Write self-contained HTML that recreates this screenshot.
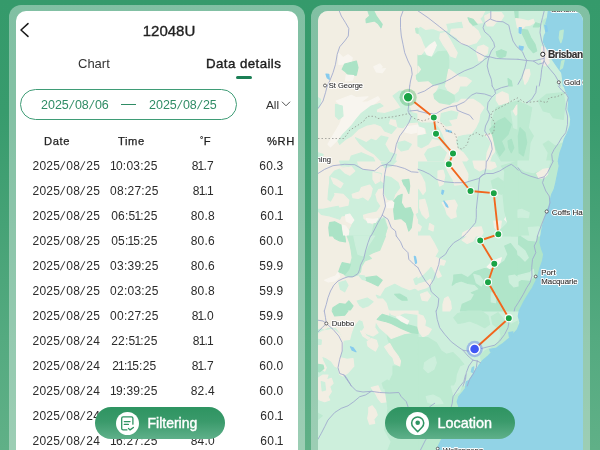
<!DOCTYPE html>
<html><head><meta charset="utf-8"><title>12048U</title>
<style>
html,body{margin:0;padding:0;}
body{width:600px;height:450px;overflow:hidden;position:relative;font-family:"Liberation Sans",sans-serif;
background:linear-gradient(180deg,#359a6b 0%,#389b6d 25%,#46a276 50%,#54aa80 75%,#60b087 100%);}
.frame{position:absolute;top:5px;height:460px;background:rgba(255,255,255,0.38);border-radius:12px;}
#f1{left:9px;width:296px;}
#f2{left:311px;width:279px;}
.card{position:absolute;top:11px;height:460px;border-radius:10px;overflow:hidden;}
#left{left:16px;width:282px;background:#fff;}
#right{left:318px;width:265px;background:#cdefdc;}
#right svg{position:absolute;left:-318px;top:-11px;}
.abs{position:absolute;white-space:nowrap;}
.abs,.row,.btn,.card{will-change:transform;}
#title{left:16.75px;width:304px;text-align:center;top:22px;font-size:15px;line-height:18px;color:#222;-webkit-text-stroke:0.35px #222;}
#tab1{left:78px;top:56px;font-size:13px;line-height:16px;color:#333;}
#tab2{left:205.5px;top:56px;font-size:13.3px;line-height:16px;color:#1d1d1d;-webkit-text-stroke:0.4px #1d1d1d;letter-spacing:0.42px;}
#ind{left:236px;top:76px;width:16px;height:2.6px;border-radius:2px;background:#1b7f55;}
#pill{left:19.5px;top:88.6px;width:215.2px;height:29.3px;border:1px solid #3f9c76;border-radius:16px;}
.dt{top:96.6px;font-size:12.5px;line-height:16px;color:#2f8c65;}
i{font-style:normal;}
i.s{margin:0 1.3px;display:inline-block;transform:skewX(-13deg);}
i.o{margin:0 -1.1px;}
#dash{left:121px;top:103.5px;width:15px;height:1.2px;background:#2f8c65;}
#all{left:266px;top:96.5px;font-size:11.8px;line-height:16px;color:#333;}
.hd{top:133px;font-size:11.2px;letter-spacing:0.6px;line-height:16px;color:#222;-webkit-text-stroke:0.25px #222;}
.row{position:absolute;left:0;top:0;height:16px;width:300px;font-size:12px;letter-spacing:0.23px;line-height:16px;color:#2b2b2b;}
.row span{position:absolute;top:0;white-space:nowrap;text-align:center;}
.row .d{left:16.3px;width:100px;}
.row .t{left:84.4px;width:100px;}
.row .f{left:152.8px;width:100px;}
.row .h{left:221.4px;width:100px;}
.btn{position:absolute;top:407px;width:130px;height:32px;border-radius:16px;background:linear-gradient(180deg,#2e9461 0%,#3a9a6b 45%,#5fb08a 100%);}
.btn .ic{position:absolute;left:21px;top:4.5px;width:23.4px;height:23.4px;border-radius:50%;background:#fff;}
.btn .tx{position:absolute;top:7px;font-size:14px;line-height:18px;color:#fff;-webkit-text-stroke:0.4px #fff;white-space:nowrap;}
</style></head><body>
<div class="frame" id="f1"></div>
<div class="frame" id="f2"></div>
<div class="card" id="left"></div>
<div class="card" id="right">
<svg width="600" height="461" viewBox="0 0 600 461">
<g stroke-linejoin="round" stroke-width="1.2">
<rect x="318" y="11" width="100" height="75" fill="#f2eee3"/>
<rect x="418" y="11" width="100" height="75" fill="#cdefdc"/>
<rect x="518" y="11" width="65" height="75" fill="#cdefdc"/>
<rect x="318" y="86" width="100" height="75" fill="#f2eee3"/>
<rect x="418" y="86" width="100" height="75" fill="#cdefdc"/>
<rect x="518" y="86" width="65" height="75" fill="#cdefdc"/>
<rect x="318" y="161" width="100" height="75" fill="#f2eee3"/>
<rect x="418" y="161" width="100" height="75" fill="#cdefdc"/>
<rect x="518" y="161" width="65" height="75" fill="#bdead1"/>
<rect x="318" y="236" width="100" height="75" fill="#f2eee3"/>
<rect x="418" y="236" width="100" height="75" fill="#cdefdc"/>
<rect x="518" y="236" width="65" height="75" fill="#b0e5c9"/>
<rect x="318" y="311" width="100" height="75" fill="#cdefdc"/>
<rect x="418" y="311" width="100" height="75" fill="#cdefdc"/>
<rect x="318" y="386" width="100" height="75" fill="#cdefdc"/>
<rect x="418" y="386" width="165" height="75" fill="#bdead1"/>
<polygon points="368.0,11.0 373.8,11.0 376.3,16.0 382.2,24.3 381.0,27.7 378.0,23.5 374.7,21.0 366.3,22.7 366.0,19.3 369.7,16.0" fill="#abe3c6" stroke="#abe3c6"/>
<polygon points="338.8,53.5 343.0,57.7 348.0,54.7 352.2,57.7 351.3,61.8 344.7,64.0 338.8,64.3" fill="#f8f5ef" stroke="#f8f5ef"/>
<polygon points="344.7,64.0 356.3,61.0 358.0,67.7 356.3,75.2 349.7,76.0 345.5,71.8 342.2,69.3" fill="#abe3c6" stroke="#abe3c6"/>
<polygon points="346.3,75.2 353.8,75.7 352.2,80.2 345.5,81.0" fill="#f8f5ef" stroke="#f8f5ef"/>
<polygon points="373.8,66.8 379.7,64.0 382.2,66.8 379.7,69.3 385.5,68.5 382.2,72.7 376.3,71.8" fill="#f8f5ef" stroke="#f8f5ef"/>
<polygon points="326.0,74.0 328.8,74.3 329.3,79.3 327.2,77.7" fill="#86cbee" stroke="#86cbee"/>
<polygon points="415.5,28.5 418.0,27.7 418.0,33.5 416.3,32.7" fill="#bdead1" stroke="#bdead1"/>
<polygon points="416.3,75.2 418.0,74.3 418.0,80.2 416.7,79.3" fill="#bdead1" stroke="#bdead1"/>
<polygon points="418.0,54.7 428.0,55.7 432.2,57.3 438.0,51.8 447.7,51.0 448.8,61.0 448.3,76.0 444.7,83.5 434.7,84.3 421.3,82.7 418.0,81.0" fill="#bdead1" stroke="#bdead1"/>
<polygon points="418.0,11.0 484.7,11.0 482.2,16.0 479.7,18.5 482.2,22.7 473.0,23.5 471.3,26.8 463.8,27.7 462.2,21.0 445.5,23.5 447.2,30.2 439.7,31.0 433.0,28.5 425.5,29.3 420.5,26.0 418.0,27.7" fill="#f2eee3" stroke="#f2eee3"/>
<polygon points="451.3,29.3 463.0,28.5 473.0,26.8 478.0,31.0 480.5,36.8 476.3,42.7 468.0,45.2 460.5,43.5 457.2,37.7 450.5,33.5" fill="#f2eee3" stroke="#f2eee3"/>
<polygon points="440.5,33.5 445.5,32.7 449.7,39.3 453.8,46.8 457.2,52.7 455.5,57.7 450.5,56.0 447.2,50.2 443.0,44.3 439.7,38.5" fill="#f2eee3" stroke="#f2eee3"/>
<polygon points="418.0,34.3 420.5,37.7 423.0,44.3 425.5,49.3 421.3,54.3 418.0,54.7" fill="#f2eee3" stroke="#f2eee3"/>
<polygon points="478.0,46.8 483.8,45.2 488.0,47.7 487.2,53.5 483.8,56.0 482.2,60.2 478.8,61.0 478.0,56.8 476.3,51.8" fill="#f2eee3" stroke="#f2eee3"/>
<polygon points="484.7,16.0 491.3,12.7 501.3,12.7 503.8,16.0 500.5,21.0 496.3,21.8 493.0,26.0 487.2,26.0 485.5,21.8" fill="#f2eee3" stroke="#f2eee3"/>
<polygon points="448.8,69.3 453.8,72.7 458.8,76.8 466.3,77.7 471.3,81.0 466.3,86.0 445.5,86.0 447.2,77.7" fill="#f2eee3" stroke="#f2eee3"/>
<polygon points="418.0,66.0 420.5,69.3 418.0,72.7" fill="#f2eee3" stroke="#f2eee3"/>
<polygon points="418.0,82.7 428.0,81.8 433.0,86.0 418.0,86.0" fill="#f2eee3" stroke="#f2eee3"/>
<polygon points="424.7,50.2 429.7,45.2 434.7,41.8 436.3,45.2 433.8,51.0 431.3,56.0 427.2,54.7" fill="#f8f5ef" stroke="#f8f5ef"/>
<polygon points="468.0,17.7 473.0,19.3 477.2,24.3 473.0,25.2 469.7,21.8" fill="#abe3c6" stroke="#abe3c6"/>
<polygon points="496.3,51.8 501.3,49.7 506.3,51.8 505.5,56.0 500.5,58.0 497.2,56.0" fill="#abe3c6" stroke="#abe3c6"/>
<polygon points="514.7,11.0 518.0,11.0 518.0,18.5 515.5,17.7" fill="#abe3c6" stroke="#abe3c6"/>
<polygon points="508.0,78.5 511.3,81.0 512.2,86.0 508.8,86.0" fill="#abe3c6" stroke="#abe3c6"/>
<polygon points="542.5,21.0 547.5,17.7 550.0,24.3 550.8,32.7 547.5,34.3 544.2,27.7" fill="#bdead1" stroke="#bdead1"/>
<polygon points="515.8,18.5 521.7,19.3 528.3,21.0 533.3,19.3 534.2,22.7 530.0,25.2 525.0,26.0 521.7,29.3 517.5,27.7" fill="#f2eee3" stroke="#f2eee3"/>
<polygon points="525.0,70.2 529.2,69.3 530.0,74.3 527.5,81.0 525.0,84.3 523.3,77.7" fill="#f2eee3" stroke="#f2eee3"/>
<polygon points="541.7,46.8 545.8,47.7 548.3,56.0 549.2,62.7 545.8,66.0 542.5,64.3 540.8,57.7" fill="#f0ebe4" stroke="#f0ebe4"/>
<polygon points="521.7,29.3 527.5,30.2 530.8,37.7 535.0,44.3 536.7,51.0 533.3,52.7 528.3,46.8 525.0,39.3 522.5,34.3" fill="#abe3c6" stroke="#abe3c6"/>
<polygon points="535.8,22.7 540.8,24.3 539.2,26.8 533.3,26.8" fill="#abe3c6" stroke="#abe3c6"/>
<polygon points="548.3,11.0 547.5,17.7 545.8,23.5 547.5,29.3 544.2,36.0 543.3,41.8 545.8,46.8 548.3,51.0 550.0,56.0 553.3,61.0 556.7,66.0 559.2,69.3 561.7,72.7 562.5,77.7 563.3,86.0 583.3,86.0 583.3,11.0" fill="#92d3e6" stroke="#92d3e6"/>
<polygon points="560.0,31.0 563.3,30.2 562.5,37.7 560.8,42.7 559.2,37.7" fill="#bdead1" stroke="#bdead1"/>
<polygon points="561.7,61.0 564.2,60.2 562.5,67.7 560.3,69.3" fill="#bdead1" stroke="#bdead1"/>
<polygon points="519.2,27.7 521.3,27.7 520.8,33.5 519.2,32.7" fill="#86cbee" stroke="#86cbee"/>
<polygon points="519.2,46.0 523.3,46.8 522.5,50.2 520.0,49.0" fill="#86cbee" stroke="#86cbee"/>
<polygon points="544.7,25.2 546.3,26.0 547.5,31.0 545.8,31.8" fill="#86cbee" stroke="#86cbee"/>
<polygon points="336.3,101.0 351.3,95.2 356.3,97.7 368.0,96.8 359.7,102.7 368.0,101.8 378.0,96.8 379.7,99.3 371.3,106.0 361.3,113.5 356.3,119.3 351.3,126.0 343.0,134.3 336.3,141.0 330.5,146.8 328.0,144.3 333.8,134.3 339.7,124.3 343.0,116.0 343.0,107.7" fill="#f8f5ef" stroke="#f8f5ef"/>
<polygon points="335.5,104.3 342.2,106.0 343.0,116.0 338.8,119.3 335.5,116.0" fill="#cdefdc" stroke="#cdefdc"/>
<polygon points="361.3,113.5 371.3,106.0 379.7,103.5 383.0,106.0 376.3,109.3 376.3,112.7 384.7,113.5 393.0,111.0 401.3,107.7 398.0,102.7 393.0,96.0 399.7,91.0 404.7,91.0 401.3,99.3 408.0,102.7 411.3,112.7 418.0,114.3 418.0,121.8 408.0,122.7 403.0,127.7 398.0,126.8 396.3,119.3 389.7,118.5 388.0,124.3 396.3,127.7 391.3,133.5 384.7,131.0 381.3,126.0 374.7,123.5 366.3,125.2 358.0,129.3 351.3,136.0 345.5,139.3 339.7,144.3 338.0,141.0 343.0,134.3 351.3,126.0 356.3,119.3" fill="#cdefdc" stroke="#cdefdc"/>
<polygon points="355.5,137.7 361.3,140.2 366.3,142.7 371.3,139.3 376.3,141.0 381.3,136.0 388.0,137.7 384.7,144.3 389.7,152.7 396.3,154.3 394.7,161.0 381.3,161.0 374.7,154.3 366.3,149.3 359.7,143.5" fill="#cdefdc" stroke="#cdefdc"/>
<polygon points="398.0,142.7 404.7,141.0 411.3,144.3 408.0,149.3 401.3,151.0 398.0,147.7" fill="#cdefdc" stroke="#cdefdc"/>
<polygon points="318.0,152.7 323.0,154.3 321.3,161.0 318.0,161.0" fill="#cdefdc" stroke="#cdefdc"/>
<polygon points="351.3,156.0 361.3,152.7 373.0,157.7 374.7,161.0 349.7,161.0" fill="#cdefdc" stroke="#cdefdc"/>
<polygon points="318.0,97.7 320.5,99.3 319.7,106.0 318.0,107.7" fill="#cdefdc" stroke="#cdefdc"/>
<polygon points="406.3,126.8 418.0,125.2 418.0,131.8 411.3,133.5 404.7,131.8" fill="#f8f5ef" stroke="#f8f5ef"/>
<polygon points="418.0,86.0 438.0,86.0 434.7,92.7 433.8,97.7 439.7,102.7 449.7,104.3 458.0,102.7 461.3,99.3 473.0,99.3 479.7,103.5 483.8,107.7 479.7,114.3 478.8,121.0 475.5,127.7 471.3,133.5 463.0,134.3 457.2,136.0 455.5,142.7 458.0,149.3 451.3,150.2 446.3,142.7 443.0,134.3 439.7,127.7 434.7,121.8 428.0,121.8 421.3,121.8 418.0,120.2" fill="#f2eee3" stroke="#f2eee3"/>
<polygon points="441.3,113.5 451.3,111.0 458.0,112.7 456.3,118.5 448.0,120.2 451.3,125.2 446.3,126.0 440.5,121.0" fill="#cdefdc" stroke="#cdefdc"/>
<polygon points="445.5,86.0 459.7,86.0 458.0,91.0 453.8,94.3 448.8,91.8" fill="#f2eee3" stroke="#f2eee3"/>
<polygon points="496.3,95.2 502.2,91.8 508.0,94.3 508.8,101.8 504.7,106.0 498.8,104.3 496.3,100.2" fill="#f2eee3" stroke="#f2eee3"/>
<polygon points="418.0,127.7 424.7,129.3 426.3,136.0 431.3,139.3 439.7,141.0 444.7,147.7 449.7,152.7 448.0,161.0 418.0,161.0" fill="#f2eee3" stroke="#f2eee3"/>
<polygon points="418.0,136.0 426.3,134.3 431.3,139.3 428.0,144.3 421.3,147.7 418.0,146.0" fill="#cdefdc" stroke="#cdefdc"/>
<polygon points="428.0,149.3 439.7,146.0 446.3,152.7 443.0,161.0 428.0,161.0 424.7,154.3" fill="#cdefdc" stroke="#cdefdc"/>
<polygon points="458.0,149.3 463.0,152.7 468.0,159.3 466.3,161.0 451.3,161.0 453.0,156.0" fill="#f2eee3" stroke="#f2eee3"/>
<polygon points="484.7,134.3 493.0,134.3 498.0,141.0 496.3,149.3 491.3,156.0 489.7,161.0 486.3,161.0 487.2,152.7 491.3,142.7 488.0,137.7" fill="#f2eee3" stroke="#f2eee3"/>
<polygon points="513.0,109.3 518.0,106.0 518.0,116.0 514.7,115.2" fill="#f2eee3" stroke="#f2eee3"/>
<polygon points="433.8,94.3 439.7,89.3 448.0,91.8 453.8,95.2 454.7,100.2 449.7,104.3 439.7,102.7 434.7,98.5" fill="#bdead1" stroke="#bdead1"/>
<polygon points="496.3,107.7 504.7,104.3 518.0,101.0 518.0,161.0 501.3,161.0 496.3,152.7 493.0,136.0 491.3,122.7" fill="#bdead1" stroke="#bdead1"/>
<polygon points="498.0,121.0 504.7,117.7 511.3,124.3 508.0,134.3 501.3,141.0 504.7,149.3 499.7,156.0 496.3,149.3 493.0,136.0 489.7,129.3" fill="#abe3c6" stroke="#abe3c6"/>
<polygon points="508.0,141.0 511.3,139.3 513.8,147.7 511.3,152.7 508.8,147.7" fill="#abe3c6" stroke="#abe3c6"/>
<polygon points="511.3,111.0 518.0,109.3 518.0,129.3 513.8,127.7" fill="#cdefdc" stroke="#cdefdc"/>
<polygon points="418.0,126.8 423.8,128.5 424.7,133.5 418.0,134.3" fill="#f8f5ef" stroke="#f8f5ef"/>
<polygon points="446.3,130.2 451.3,131.3 451.0,132.3 446.0,131.0" fill="#86cbee" stroke="#86cbee"/>
<polygon points="513.3,111.0 516.7,105.2 522.5,102.7 524.2,105.2 520.0,111.0 515.8,115.2" fill="#f2eee3" stroke="#f2eee3"/>
<polygon points="518.0,101.0 525.0,104.3 531.7,107.7 530.0,117.7 528.3,127.7 533.3,136.0 530.0,142.7 528.3,161.0 518.0,161.0" fill="#bdead1" stroke="#bdead1"/>
<polygon points="520.0,127.7 525.0,132.7 526.7,142.7 523.3,156.0 519.2,152.7 518.3,136.0" fill="#abe3c6" stroke="#abe3c6"/>
<polygon points="538.3,101.0 546.7,94.3 563.3,92.7 565.0,104.3 563.3,119.3 553.3,117.7 550.0,112.7 543.3,111.0" fill="#bdead1" stroke="#bdead1"/>
<polygon points="543.3,144.3 548.3,141.0 555.0,146.0 563.3,142.7 561.7,152.7 556.7,161.0 546.7,161.0 548.3,152.7" fill="#bdead1" stroke="#bdead1"/>
<polygon points="564.2,86.0 565.8,91.0 568.3,96.0 568.7,102.7 568.0,109.3 569.7,114.3 570.8,119.3 570.0,126.0 567.5,132.7 564.2,139.3 562.5,146.0 560.0,152.7 558.3,161.0 583.3,161.0 583.3,86.0" fill="#92d3e6" stroke="#92d3e6"/>
<polygon points="329.7,176.8 334.7,171.0 341.3,168.5 351.3,166.0 356.3,164.3 363.0,170.2 373.0,171.8 381.3,173.5 379.7,181.0 383.8,184.3 383.0,187.7 378.0,188.5 374.7,194.3 376.3,201.0 379.7,206.0 376.3,211.0 368.0,212.7 362.2,214.3 363.0,219.3 368.0,222.7 373.0,225.2 377.2,218.5 384.7,217.7 387.2,227.7 384.7,236.0 346.3,236.0 351.3,226.8 353.8,221.0 349.7,216.0 346.3,215.2 341.3,216.0 339.7,219.3 329.7,216.0 321.3,214.3 318.0,211.0 318.0,209.3 323.0,209.3 331.3,207.7 339.7,206.0 348.0,204.3 348.0,199.3 343.0,194.3 334.7,193.5 330.5,201.0 328.0,199.3 328.8,189.3 329.7,182.7" fill="#cdefdc" stroke="#cdefdc"/>
<polygon points="331.3,177.7 336.3,179.3 343.0,183.5 340.5,187.7 333.8,183.5" fill="#f2eee3" stroke="#f2eee3"/>
<polygon points="340.5,168.5 351.3,166.8 354.7,171.0 349.7,175.2 344.7,172.7" fill="#f2eee3" stroke="#f2eee3"/>
<polygon points="352.2,194.3 359.7,191.8 361.3,187.7 369.7,185.2 372.2,188.5 370.5,196.0 368.0,200.2 363.0,196.8 358.0,198.5 353.0,197.7" fill="#f2eee3" stroke="#f2eee3"/>
<polygon points="373.0,172.7 380.5,174.3 379.7,181.0 375.5,183.5 373.0,179.3" fill="#f2eee3" stroke="#f2eee3"/>
<polygon points="334.7,193.5 343.0,194.3 348.8,200.2 348.0,205.2 339.7,206.8 338.0,201.0" fill="#f2eee3" stroke="#f2eee3"/>
<polygon points="339.7,161.0 356.3,161.0 357.2,164.3 348.0,166.0 341.3,166.0" fill="#cdefdc" stroke="#cdefdc"/>
<polygon points="381.3,162.7 391.3,161.0 396.3,161.0 391.3,166.0 384.7,167.7" fill="#cdefdc" stroke="#cdefdc"/>
<polygon points="384.7,176.0 391.3,177.7 398.0,182.7 399.7,187.7 394.7,194.3 393.0,200.2 388.0,199.3 384.7,194.3" fill="#cdefdc" stroke="#cdefdc"/>
<polygon points="402.2,180.2 408.8,179.3 409.7,186.0 408.8,193.5 406.3,187.7 403.8,184.3" fill="#abe3c6" stroke="#abe3c6"/>
<polygon points="393.8,201.0 398.0,196.0 402.2,194.3 401.3,202.7 404.7,208.5 410.5,207.7 413.0,214.3 411.3,227.7 408.8,231.0 406.3,222.7 401.3,218.5 394.7,219.3 393.8,211.0" fill="#abe3c6" stroke="#abe3c6"/>
<polygon points="329.7,222.7 334.7,221.8 341.3,225.2 343.0,236.0 329.7,236.0 328.8,227.7" fill="#abe3c6" stroke="#abe3c6"/>
<polygon points="374.7,222.7 383.8,218.5 387.2,227.7 384.7,236.0 371.3,236.0" fill="#bdead1" stroke="#bdead1"/>
<polygon points="345.5,215.2 349.7,214.0 353.8,220.2 351.3,223.5 346.3,221.0" fill="#f8f5ef" stroke="#f8f5ef"/>
<polygon points="366.3,218.5 373.0,219.3 378.0,218.5 375.5,222.3 368.0,222.7" fill="#f8f5ef" stroke="#f8f5ef"/>
<polygon points="386.3,203.5 391.3,201.0 393.8,202.7 393.0,207.7 387.2,207.7" fill="#f8f5ef" stroke="#f8f5ef"/>
<polygon points="342.2,225.2 345.5,226.0 348.8,231.0 348.0,236.0 343.8,236.0" fill="#f8f5ef" stroke="#f8f5ef"/>
<polygon points="416.3,214.3 418.0,213.5 418.0,218.5" fill="#cdefdc" stroke="#cdefdc"/>
<polygon points="446.3,167.7 453.0,166.8 459.7,172.7 468.0,176.0 467.2,181.0 461.3,184.3 454.7,185.2 453.0,179.3 449.7,174.3" fill="#f2eee3" stroke="#f2eee3"/>
<polygon points="451.3,161.0 461.3,161.0 464.7,167.7 468.0,174.3 466.3,179.3 461.3,177.7 458.0,172.7 453.0,167.7" fill="#f2eee3" stroke="#f2eee3"/>
<polygon points="473.0,161.0 484.7,161.0 494.7,162.7 496.3,166.8 491.3,169.3 484.7,168.5 479.7,171.0 474.7,167.7" fill="#f2eee3" stroke="#f2eee3"/>
<polygon points="418.0,171.0 421.3,176.0 424.7,182.7 425.5,191.0 423.0,194.3 419.7,189.3 418.0,187.7" fill="#f2eee3" stroke="#f2eee3"/>
<polygon points="438.0,171.0 443.0,170.2 444.7,176.0 443.0,184.3 439.7,186.0 438.0,179.3" fill="#f2eee3" stroke="#f2eee3"/>
<polygon points="419.7,200.2 424.7,199.3 427.2,207.7 428.8,216.0 426.3,218.5 422.2,214.3 419.7,207.7" fill="#f2eee3" stroke="#f2eee3"/>
<polygon points="418.0,224.3 421.3,226.8 419.7,231.0 418.0,231.0" fill="#f2eee3" stroke="#f2eee3"/>
<polygon points="429.7,223.5 433.8,226.0 433.0,231.0 428.8,229.3" fill="#f2eee3" stroke="#f2eee3"/>
<polygon points="442.2,202.7 446.3,201.0 454.7,200.2 457.2,205.2 455.5,211.0 456.3,216.8 451.3,218.5 447.2,214.3 445.5,208.5" fill="#f2eee3" stroke="#f2eee3"/>
<polygon points="463.0,232.7 473.0,227.7 481.3,226.8 483.0,232.7 481.3,236.0 462.2,236.0" fill="#f2eee3" stroke="#f2eee3"/>
<polygon points="493.8,221.0 501.3,221.0 500.5,227.7 498.0,231.0 494.7,227.7" fill="#f2eee3" stroke="#f2eee3"/>
<polygon points="504.7,219.3 508.8,212.7 513.8,210.2 514.7,214.3 510.5,218.5 508.0,222.7" fill="#f8f5ef" stroke="#f8f5ef"/>
<polygon points="491.3,181.0 498.0,177.7 504.7,182.7 506.3,191.0 501.3,194.3 496.3,192.7 493.0,187.7" fill="#bdead1" stroke="#bdead1"/>
<polygon points="499.7,231.0 506.3,224.3 511.3,219.3 518.0,217.7 518.0,236.0 496.3,236.0" fill="#bdead1" stroke="#bdead1"/>
<polygon points="501.3,166.0 518.0,161.0 518.0,177.7 511.3,176.0 504.7,171.0" fill="#bdead1" stroke="#bdead1"/>
<polygon points="505.0,170.0 518.0,170.0 518.0,236.0 511.3,236.0 508.0,224.3 504.7,211.0 503.0,194.3" fill="#bdead1" stroke="#bdead1"/>
<polygon points="442.2,190.2 443.8,190.7 442.7,194.3 441.7,193.5" fill="#86cbee" stroke="#86cbee"/>
<polygon points="443.8,201.0 447.2,205.2 448.0,207.3 446.3,206.3" fill="#86cbee" stroke="#86cbee"/>
<polygon points="518.0,161.0 550.0,161.0 548.3,167.7 541.7,169.3 533.3,172.7 525.0,171.0 518.0,166.8" fill="#cdefdc" stroke="#cdefdc"/>
<polygon points="536.7,173.5 543.3,169.3 548.3,168.5 547.5,174.3 544.2,177.7 539.2,178.5" fill="#f2eee3" stroke="#f2eee3"/>
<polygon points="518.0,210.2 521.7,209.3 529.2,212.7 528.3,217.7 520.0,216.8 518.0,217.3" fill="#cdefdc" stroke="#cdefdc"/>
<polygon points="528.3,227.7 539.2,226.8 540.0,236.0 530.0,236.0" fill="#cdefdc" stroke="#cdefdc"/>
<polygon points="558.3,161.0 559.2,166.0 557.5,174.3 555.8,182.7 554.2,189.3 551.7,194.3 550.0,201.0 549.2,206.0 546.7,211.0 545.0,217.7 542.5,226.0 540.8,236.0 583.3,236.0 583.3,161.0" fill="#92d3e6" stroke="#92d3e6"/>
<polygon points="347.2,236.0 385.5,236.0 382.2,244.3 379.7,250.2 373.0,252.7 368.0,255.2 371.3,258.5 364.7,261.0 361.3,266.8 360.5,271.8 357.2,275.2 351.3,276.8 345.5,276.0 343.0,271.8 344.7,267.7 350.5,264.3 352.2,257.7 351.3,251.0 349.7,242.7" fill="#bdead1" stroke="#bdead1"/>
<polygon points="353.8,236.0 374.7,236.0 368.0,246.0 363.0,256.0 358.0,254.3 355.5,244.3" fill="#cdefdc" stroke="#cdefdc"/>
<polygon points="333.0,236.0 344.7,236.0 345.5,241.8 339.7,241.0 334.7,238.5" fill="#abe3c6" stroke="#abe3c6"/>
<polygon points="342.2,262.7 350.5,264.3 348.8,269.3 344.7,274.3 338.8,271.8 340.5,266.8" fill="#abe3c6" stroke="#abe3c6"/>
<polygon points="365.5,277.7 376.3,276.0 382.2,280.2 378.0,286.0 371.3,282.7 365.5,280.2" fill="#abe3c6" stroke="#abe3c6"/>
<polygon points="358.8,275.2 364.7,276.0 365.5,280.2 362.2,279.3" fill="#cdefdc" stroke="#cdefdc"/>
<polygon points="338.8,282.7 345.5,280.7 348.0,285.2 344.7,291.8 340.5,289.3" fill="#cdefdc" stroke="#cdefdc"/>
<polygon points="357.2,301.0 367.2,298.0 373.0,301.8 368.0,306.0 363.0,307.7 359.7,305.2" fill="#cdefdc" stroke="#cdefdc"/>
<polygon points="333.0,307.7 339.7,303.5 345.5,304.3 348.8,301.0 353.0,306.0 349.7,311.0 332.2,311.0" fill="#abe3c6" stroke="#abe3c6"/>
<polygon points="376.3,295.2 380.5,296.8 385.5,288.5 394.7,284.3 401.3,287.7 409.7,291.0 414.7,289.3 418.0,291.0 418.0,311.0 389.7,311.0 387.2,302.7 383.0,297.7 378.0,298.0" fill="#cdefdc" stroke="#cdefdc"/>
<polygon points="394.7,294.3 399.7,294.0 406.3,297.7 407.2,300.2 402.2,300.2 398.0,297.7" fill="#abe3c6" stroke="#abe3c6"/>
<polygon points="413.8,279.3 418.0,276.8 418.0,284.3 415.5,284.3" fill="#cdefdc" stroke="#cdefdc"/>
<polygon points="324.7,280.2 330.5,277.7 335.5,276.0 338.0,272.7 339.7,276.8 334.7,281.0 328.0,281.8" fill="#f8f5ef" stroke="#f8f5ef"/>
<polygon points="414.3,256.3 415.5,256.8 416.7,262.7 415.5,263.5" fill="#86cbee" stroke="#86cbee"/>
<polygon points="418.0,236.0 429.7,236.0 433.8,242.7 438.0,251.0 434.7,256.8 439.7,259.3 445.5,261.0 443.8,265.2 439.7,264.3 438.0,269.3 441.3,276.0 438.0,277.7 434.7,271.0 431.3,265.2 428.0,269.3 423.0,274.3 418.0,277.7" fill="#f2eee3" stroke="#f2eee3"/>
<polygon points="418.0,284.3 426.3,281.8 430.5,279.3 431.3,284.3 426.3,287.7 418.0,290.2" fill="#f2eee3" stroke="#f2eee3"/>
<polygon points="420.5,294.3 427.2,291.8 430.5,296.0 427.2,301.0 422.2,300.2" fill="#f2eee3" stroke="#f2eee3"/>
<polygon points="444.7,298.5 448.0,296.8 450.5,301.8 451.3,308.5 449.7,311.0 443.0,311.0 443.0,304.3" fill="#f2eee3" stroke="#f2eee3"/>
<polygon points="462.2,240.2 468.0,236.0 475.5,236.0 473.0,241.0 467.2,243.5" fill="#f2eee3" stroke="#f2eee3"/>
<polygon points="453.8,275.2 461.3,274.3 468.0,277.7 474.7,271.8 484.7,268.5 489.7,269.3 496.3,266.8 504.7,261.0 508.0,254.3 504.7,246.0 510.5,243.5 516.3,251.0 518.0,257.7 518.0,311.0 460.5,311.0 462.2,304.3 471.3,300.2 474.7,294.3 471.3,292.7 479.7,289.3 474.7,284.3 468.0,283.5 461.3,281.0 455.5,282.7 452.2,285.2 453.8,279.3" fill="#b0e5c9" stroke="#b0e5c9"/>
<polygon points="473.8,274.3 479.7,276.0 483.8,281.8 481.3,286.0 476.3,282.7" fill="#cdefdc" stroke="#cdefdc"/>
<polygon points="508.8,276.0 514.7,275.2 518.0,277.7 518.0,286.0 513.8,286.8 509.7,282.7" fill="#cdefdc" stroke="#cdefdc"/>
<polygon points="491.3,292.7 496.3,294.3 495.5,302.7 491.3,301.8" fill="#cdefdc" stroke="#cdefdc"/>
<polygon points="487.2,266.8 493.0,261.0 501.3,257.7 499.7,262.7 494.7,266.8 489.7,268.5" fill="#f8f5ef" stroke="#f8f5ef"/>
<polygon points="518.0,245.2 525.0,251.0 528.3,257.7 525.0,261.0 520.0,256.0 518.0,254.7" fill="#cdefdc" stroke="#cdefdc"/>
<polygon points="518.0,275.7 520.0,275.2 530.0,272.7 533.3,269.3 534.2,276.0 530.0,280.2 521.7,279.3 518.0,281.3" fill="#cdefdc" stroke="#cdefdc"/>
<polygon points="521.7,236.0 536.7,236.0 535.8,241.0 528.3,240.2" fill="#cdefdc" stroke="#cdefdc"/>
<polygon points="540.8,236.0 540.0,242.7 541.7,249.3 543.7,254.3 542.5,261.0 540.0,267.7 538.3,274.3 535.8,281.0 532.5,287.7 528.3,294.3 524.2,301.0 520.8,307.7 519.2,311.0 583.3,311.0 583.3,236.0" fill="#92d3e6" stroke="#92d3e6"/>
<polygon points="318.0,311.0 332.2,311.0 334.7,316.0 344.7,315.2 348.0,311.0 389.7,311.0 388.0,316.0 379.7,314.3 375.5,321.0 374.7,327.7 378.0,332.7 373.0,336.0 368.0,334.3 362.2,331.0 364.7,327.7 363.0,321.0 358.8,319.3 353.8,326.0 351.3,332.7 349.7,339.3 343.0,340.2 341.3,334.3 336.3,327.7 328.0,326.8 324.7,329.3 321.3,327.7 318.0,328.5" fill="#f2eee3" stroke="#f2eee3"/>
<polygon points="387.2,334.3 391.3,338.5 398.0,336.0 408.0,333.5 418.0,334.3 418.0,386.0 384.7,386.0 389.7,381.0 393.0,374.3 393.0,366.0 399.7,366.0 400.5,361.0 398.0,356.0 393.0,349.3 389.7,343.5 388.0,339.3" fill="#bdead1" stroke="#bdead1"/>
<polygon points="375.5,321.0 379.7,327.7 387.2,334.3 391.3,338.5 398.0,336.0 404.7,333.5 411.3,332.7 401.3,329.3 391.3,323.5 384.7,321.0 378.8,317.7" fill="#f2eee3" stroke="#f2eee3"/>
<polygon points="377.2,319.3 382.2,314.3 388.0,316.0 396.3,319.3 406.3,324.3 418.0,327.7 418.0,333.5 411.3,332.7 401.3,328.5 391.3,323.5 384.7,321.3" fill="#abe3c6" stroke="#abe3c6"/>
<polygon points="396.3,316.8 399.7,315.7 408.8,321.0 407.2,324.0 401.3,321.0" fill="#f8f5ef" stroke="#f8f5ef"/>
<polygon points="389.7,311.0 418.0,311.0 418.0,314.3 404.7,312.7 396.3,316.0 391.3,314.3" fill="#f2eee3" stroke="#f2eee3"/>
<polygon points="318.0,334.3 323.0,331.0 333.0,329.3 339.7,334.3 343.0,340.2 342.2,349.3 339.7,357.7 347.2,359.3 353.0,358.5 353.8,366.0 348.0,372.7 343.0,376.0 339.7,374.3 338.0,367.7 334.7,366.0 331.3,361.0 326.3,357.7 321.3,356.0 323.0,361.0 326.3,367.7 324.7,371.0 318.0,366.0" fill="#f2eee3" stroke="#f2eee3"/>
<polygon points="318.0,339.3 321.3,340.2 321.0,344.3 318.0,344.3" fill="#cdefdc" stroke="#cdefdc"/>
<polygon points="367.2,341.8 371.3,338.5 376.3,340.2 378.0,346.0 375.5,351.0 371.3,348.5 368.0,346.0" fill="#f2eee3" stroke="#f2eee3"/>
<polygon points="360.5,331.0 363.8,331.8 366.3,336.0 369.7,337.7 368.0,339.3 363.0,336.0" fill="#f2eee3" stroke="#f2eee3"/>
<polygon points="384.7,346.8 389.7,343.5 393.0,349.3 398.0,356.0 400.5,361.0 399.7,366.0 394.7,363.5 393.0,357.7 389.7,354.3" fill="#f2eee3" stroke="#f2eee3"/>
<polygon points="318.0,364.3 323.0,365.2 323.8,368.5 319.7,371.8 318.0,371.3" fill="#abe3c6" stroke="#abe3c6"/>
<polygon points="319.7,379.3 324.7,376.8 327.2,382.7 324.7,386.0 319.7,386.0" fill="#abe3c6" stroke="#abe3c6"/>
<polygon points="332.2,311.0 348.0,311.0 344.7,315.2 334.7,316.0" fill="#abe3c6" stroke="#abe3c6"/>
<polygon points="350.5,346.8 353.0,347.7 356.0,351.8 352.2,350.2" fill="#86cbee" stroke="#86cbee"/>
<polygon points="418.0,314.3 423.0,316.0 425.5,321.0 424.7,326.0 431.3,329.3 428.0,334.3 423.0,336.8 419.7,332.7 418.0,327.7" fill="#f2eee3" stroke="#f2eee3"/>
<polygon points="418.0,337.7 428.0,337.7 436.3,342.7 441.3,351.0 446.3,354.3 453.0,352.7 459.7,359.3 463.8,364.3 459.7,366.0 456.3,374.3 455.5,381.0 453.0,386.0 418.0,386.0" fill="#bdead1" stroke="#bdead1"/>
<polygon points="424.7,362.7 429.7,359.3 434.7,356.8 436.3,362.7 433.8,369.3 428.0,372.7 423.8,368.5" fill="#cdefdc" stroke="#cdefdc"/>
<polygon points="453.8,317.7 458.0,313.5 468.0,311.0 481.3,311.0 488.0,316.0 489.7,324.3 484.7,327.7 478.0,324.3 469.7,321.0 463.0,322.7 458.0,323.5" fill="#bdead1" stroke="#bdead1"/>
<polygon points="491.3,316.8 498.0,312.7 504.7,321.0 511.3,324.3 518.0,321.0 518.0,329.3 513.0,334.3 503.0,343.5 494.7,350.2 487.2,356.8 481.3,361.0 480.5,356.0 484.7,351.0 491.3,347.7 498.0,342.7 501.3,336.0 499.7,329.3 493.0,324.3" fill="#bdead1" stroke="#bdead1"/>
<polygon points="519.2,311.0 518.3,316.0 520.0,322.7 517.5,329.3 513.0,334.3 508.0,339.3 503.0,343.5 498.0,346.8 494.7,350.2 490.5,353.5 487.2,356.8 483.0,360.2 479.7,364.3 476.3,369.3 473.0,374.3 469.7,379.3 467.2,386.0 584.7,386.0 584.7,311.0" fill="#92d3e6" stroke="#92d3e6"/>
<polygon points="508.8,332.7 513.0,331.8 512.2,336.0 509.3,336.3" fill="#92d3e6" stroke="#92d3e6"/>
<polygon points="489.7,349.3 499.7,347.7 497.2,351.0 490.5,351.8" fill="#92d3e6" stroke="#92d3e6"/>
<polygon points="472.2,367.7 473.8,366.8 473.0,372.7 471.3,371.8" fill="#92d3e6" stroke="#92d3e6"/>
<polygon points="318.0,378.3 323.0,375.0 328.0,375.0 326.3,380.0 331.3,378.3 333.0,383.3 329.7,386.7 331.3,391.7 328.0,396.7 329.7,400.0 324.7,401.7 319.7,400.0 318.0,398.3" fill="#f2eee3" stroke="#f2eee3"/>
<polygon points="321.3,381.7 324.7,382.5 325.5,390.0 322.2,390.8" fill="#cdefdc" stroke="#cdefdc"/>
<polygon points="371.3,387.5 378.0,385.8 380.5,391.7 384.7,393.3 389.7,391.7 392.2,396.7 388.0,401.7 381.3,402.5 378.0,398.3 375.5,393.3" fill="#f2eee3" stroke="#f2eee3"/>
<polygon points="389.7,390.0 396.3,388.3 400.5,391.7 396.3,394.2 391.3,393.3" fill="#f2eee3" stroke="#f2eee3"/>
<polygon points="368.8,407.5 372.2,405.8 375.5,410.0 377.2,415.0 373.8,419.2 374.7,423.3 369.7,424.2 367.7,418.3 368.8,412.5" fill="#f2eee3" stroke="#f2eee3"/>
<polygon points="394.7,386.0 418.0,386.0 418.0,406.7 408.8,406.7 408.0,401.7 403.0,396.7 399.7,391.7 396.3,388.3" fill="#bdead1" stroke="#bdead1"/>
<polygon points="382.2,383.3 387.2,380.0 391.3,383.3 389.7,389.2 383.8,388.3" fill="#bdead1" stroke="#bdead1"/>
<polygon points="318.0,413.3 322.2,415.8 318.0,419.2" fill="#bdead1" stroke="#bdead1"/>
<polygon points="384.7,386.0 418.0,386.0 418.0,450.0 388.0,450.0 391.3,441.7 384.7,430.0 388.0,408.3" fill="#bdead1" stroke="#bdead1"/>
<polygon points="426.3,396.7 433.0,395.0 439.7,398.3 443.0,403.3 434.7,404.2 428.0,402.5" fill="#cdefdc" stroke="#cdefdc"/>
<polygon points="451.3,386.0 461.3,386.0 459.7,391.7 453.8,395.0" fill="#cdefdc" stroke="#cdefdc"/>
<polygon points="473.0,375.0 470.5,380.0 468.0,385.0 463.0,391.7 458.8,396.7 457.2,401.7 458.8,406.7 451.3,425.0 441.3,440.0 438.8,445.0 437.2,450.0 584.7,450.0 584.7,375.0" fill="#92d3e6" stroke="#92d3e6"/>
<polygon points="466.3,381.7 469.7,380.0 468.0,385.8 465.5,387.5" fill="#92d3e6" stroke="#92d3e6"/>
</g>
<g fill="none" stroke="#9ea8cd" stroke-width="0.85" stroke-linejoin="round" stroke-linecap="round">
<polyline points="339.3,11.0 341.3,16.0 345.5,22.7 348.8,28.5 348.3,36.0 344.7,41.0 339.7,46.8 337.2,54.3 335.5,64.3 333.0,72.7 329.7,81.0 327.2,86.0"/>
<polyline points="403.0,11.0 400.5,17.7 400.5,27.7 401.3,36.0 403.0,44.3 404.7,52.7 408.0,61.0 411.3,67.7 412.2,74.3 410.5,81.0 409.7,86.0"/>
<polyline points="416.3,9.7 428.0,17.7 439.7,26.8 451.3,36.0 461.3,43.5 468.0,46.0 476.3,51.8 484.7,56.3 489.7,56.8 496.3,58.5 506.3,59.0 518.0,59.3"/>
<polyline points="490.8,11.0 490.8,18.5 484.7,22.7 483.0,27.7 484.7,31.8 489.7,36.0 493.8,42.7 494.7,46.8 491.3,51.0 489.3,56.0 488.0,61.0 487.2,66.0 488.8,72.7 491.3,79.3 492.2,86.0"/>
<polyline points="490.8,19.3 496.3,21.3 503.0,21.8 508.8,25.2 510.5,32.7 513.0,41.0 516.3,46.0 518.0,47.7"/>
<polyline points="489.3,56.3 484.7,59.3 479.7,63.5 473.0,67.7 464.7,70.7 458.0,74.3 451.3,78.5 443.0,82.7 434.7,85.2 432.2,86.0"/>
<polyline points="544.2,11.0 542.5,17.7 540.8,24.3 540.0,32.7 541.7,41.0 543.7,46.8 544.2,54.3 544.2,61.0 546.7,65.2 550.0,69.3 555.0,75.2 558.3,81.0 560.0,86.0"/>
<polyline points="518.0,47.7 522.5,51.8 525.0,57.7 526.7,60.2"/>
<polyline points="518.0,59.3 526.7,60.5 533.3,61.0 540.0,59.3 543.7,58.5"/>
<polyline points="526.7,60.5 525.0,67.7 521.7,77.7 518.0,84.3"/>
<polyline points="543.7,61.0 541.7,69.3 540.8,77.7 539.2,86.0"/>
<polyline points="533.3,61.0 538.3,64.3 543.7,62.7"/>
<polyline points="327.2,86.0 325.5,92.7 323.0,101.0 319.7,106.0 318.0,108.5"/>
<polyline points="409.7,86.0 408.8,96.0 408.8,104.3 408.0,111.0 409.7,114.3 411.3,116.8 408.8,122.7 404.7,129.3 399.7,136.0 396.3,144.3 394.7,152.7 391.3,159.3 390.5,161.0"/>
<polyline points="409.7,111.0 418.0,110.2"/>
<polyline points="492.2,86.0 494.7,90.2 495.5,93.5 491.3,97.7 488.0,102.7 487.2,109.3 489.7,114.3 488.8,119.3 485.5,126.0 484.7,131.0 488.0,136.0 491.3,142.7 492.2,149.3 489.7,156.0 487.2,161.0"/>
<polyline points="495.5,90.2 501.3,87.7 508.0,86.0"/>
<polyline points="432.2,86.0 424.7,91.0 418.0,93.5"/>
<polyline points="418.0,111.0 428.0,113.5 436.3,113.5 443.0,109.3 449.7,106.8 456.3,105.7 464.7,101.8 471.3,95.2 476.3,93.0 484.7,94.0 491.3,96.3"/>
<polyline points="456.3,105.7 457.2,110.2 463.0,112.7 469.7,115.2 473.0,119.3"/>
<polyline points="558.3,86.0 561.7,90.2 565.8,93.5 568.3,97.7 566.7,102.7 565.8,109.3 567.5,116.0 567.5,124.3 565.8,132.7 561.7,137.7 558.3,143.5 554.2,149.3 551.7,154.3 552.5,161.0"/>
<polyline points="536.7,86.0 535.8,92.7 531.7,99.3 526.7,102.7"/>
<polyline points="318.0,173.5 324.7,169.3 333.0,165.7 344.7,164.3 354.7,164.7 363.0,169.3 374.7,170.7 380.5,166.0 386.3,164.3 390.5,161.0"/>
<polyline points="386.3,164.7 396.3,166.0 404.7,168.5 411.3,171.8 418.0,172.3"/>
<polyline points="386.7,164.7 384.7,174.3 383.8,184.3 383.3,194.3 384.7,201.0 385.5,206.0 383.8,211.0 382.2,215.2 378.0,222.7 373.8,231.0 371.0,236.0"/>
<polyline points="382.2,215.2 388.0,219.3 391.3,227.7 395.5,231.0 396.3,236.0"/>
<polyline points="418.0,169.3 423.0,171.0 429.7,174.3 436.3,179.3 444.7,181.8 454.7,182.7 464.7,182.7 473.0,180.2 478.8,178.5 482.2,175.2 486.3,173.5 493.0,173.5 499.7,171.0 506.3,166.8 511.3,164.3 514.7,166.8 518.0,170.2"/>
<polyline points="486.3,161.0 486.0,167.7 484.7,173.5 479.7,177.7 478.8,184.3 478.0,194.3 477.2,201.0 476.3,209.3 476.3,217.7 475.5,222.7 471.3,227.7 466.3,233.5 463.8,236.0"/>
<polyline points="518.0,167.7 521.7,172.7 530.0,176.0 538.3,178.5 544.2,176.8 547.5,172.7 550.8,166.0 553.3,161.0"/>
<polyline points="544.2,177.7 542.5,182.7 545.8,191.0 549.2,196.0 550.0,202.7 548.3,209.3 545.0,216.0 541.7,224.3 539.2,231.0 537.5,236.0"/>
<polyline points="370.5,236.0 368.0,242.7 365.5,251.0 363.8,258.5 360.5,265.2 359.7,269.3 358.0,273.5 353.0,276.8 348.0,276.8 343.0,278.5 338.0,281.0 333.8,285.2 330.5,291.0 328.0,297.7 326.3,304.3 324.3,311.0"/>
<polyline points="396.3,236.0 400.5,241.8 403.0,247.7 408.0,252.7 408.8,259.3 413.8,264.3 418.0,267.7"/>
<polyline points="463.8,236.0 459.7,239.3 453.8,242.7 448.8,248.5 445.5,254.3 439.7,258.5 438.8,264.3 436.3,271.8 433.8,279.3 429.7,286.0 431.3,291.8 438.8,298.5 438.0,306.0 436.3,311.0"/>
<polyline points="418.0,267.7 421.3,274.3 425.5,281.0 429.7,286.0"/>
<polyline points="537.5,236.0 536.7,241.0 534.2,246.0 535.8,252.7 532.5,259.3 531.7,267.7 532.0,276.0 530.0,282.7 526.7,287.7 523.3,294.3 518.3,302.7 515.0,307.7 514.2,311.0"/>
<polyline points="324.3,311.0 325.5,317.7 326.3,323.5 333.0,329.3 338.8,336.0 342.2,342.7 342.2,351.0 339.7,359.3 338.0,367.7 339.7,373.5 344.7,375.2 348.0,380.2 351.3,386.0"/>
<polyline points="318.0,320.2 323.0,321.0 326.3,323.5 322.2,327.7 318.0,331.8"/>
<polyline points="436.0,311.0 437.2,319.3 439.7,327.7 444.7,334.3 451.3,341.8 458.0,346.8 463.0,350.2 468.0,351.0 473.0,351.0"/>
<polyline points="463.0,350.2 468.0,356.0 473.0,360.2 477.2,361.0"/>
<polyline points="473.0,360.2 468.8,366.0 466.3,372.7 465.5,379.3 463.0,386.0"/>
<polyline points="477.2,361.0 476.3,367.7 473.0,374.3 469.7,379.3 467.2,386.0"/>
<polyline points="481.3,348.5 488.0,346.8 494.7,345.2 499.7,341.0 504.7,334.3 508.0,327.7 508.8,322.7 508.0,318.5"/>
<polyline points="477.2,361.0 480.5,362.7"/>
<polyline points="343.8,375.0 347.2,380.0 351.3,385.8 356.3,390.8 363.0,392.0 371.3,391.3 379.7,392.5 389.7,393.0 398.8,392.5 401.3,396.7 406.3,401.7 408.0,406.7"/>
<polyline points="371.3,391.3 365.5,395.0 359.7,396.7 353.8,401.7 348.0,405.8 341.3,408.3 334.7,412.5 328.0,420.0 324.7,426.7 321.3,433.3 318.0,439.2"/>
<polyline points="465.5,375.0 463.8,381.7 459.7,386.7 456.3,391.7 453.0,396.7 452.2,403.3 451.3,406.7 438.0,425.0 425.5,440.0 423.0,445.0 420.5,450.0"/>
<polyline points="434.7,403.3 429.7,406.7"/>
</g>
<g fill="none" stroke="#888884" stroke-width="0.7" stroke-dasharray="1.5 2" stroke-linejoin="round">
<polyline points="318.0,138.5 343.8,138.5 347.2,134.3 349.7,130.2 358.0,125.2 364.7,120.2 367.2,116.3 374.7,116.3 378.0,118.5 384.7,117.7 393.0,116.8 401.3,115.2 408.8,113.5 413.0,117.7 418.0,120.2"/>
<polyline points="418.0,119.3 423.0,121.0 429.7,118.5 434.7,121.0 441.3,123.5 445.5,129.3 449.7,131.8 455.5,134.3 457.2,141.0 458.0,147.7 462.2,149.3 467.2,144.3 469.7,136.0 476.3,132.7 482.2,136.0 488.0,134.3 493.8,132.7 494.7,122.7 490.5,116.0 492.2,111.8 499.7,107.7 506.3,104.3 513.0,100.2 518.0,97.7"/>
<polyline points="518.0,101.8 520.0,99.3 525.0,102.7 533.3,101.8 540.0,101.0 546.7,102.7 549.2,97.7 556.7,96.8 564.2,93.5 565.8,91.8"/>
</g>
<!-- route -->
<polyline points="414.9,102.6 433.8,117.5 436,133.8 453,153.5 448.8,164.3 470.5,191 493.8,193.2 498.3,234.3 480.2,240.5 494.3,263.8 488,282.2 508.8,318.2 474.6,349" fill="none" stroke="#f1661d" stroke-width="1.85" stroke-linejoin="round" stroke-linecap="round"/>
<g fill="#1aa446" stroke="#fff" stroke-width="1.1">
<circle cx="433.8" cy="117.5" r="3.55"/>
<circle cx="436" cy="133.8" r="3.55"/>
<circle cx="453" cy="153.5" r="3.55"/>
<circle cx="448.8" cy="164.3" r="3.55"/>
<circle cx="470.5" cy="191" r="3.55"/>
<circle cx="493.8" cy="193.2" r="3.55"/>
<circle cx="498.3" cy="234.3" r="3.55"/>
<circle cx="480.2" cy="240.5" r="3.55"/>
<circle cx="494.3" cy="263.8" r="3.55"/>
<circle cx="488" cy="282.2" r="3.55"/>
<circle cx="508.8" cy="318.2" r="3.55"/>
</g>
<circle cx="408.1" cy="97.3" r="8.6" fill="#1aa446" opacity="0.3"/>
<circle cx="408.1" cy="97.3" r="4.85" fill="#1aa446" stroke="#fff" stroke-width="1.3"/>
<circle cx="474.6" cy="349" r="8.2" fill="#4057f5" opacity="0.33"/>
<circle cx="474.6" cy="349" r="5" fill="#4057f5" stroke="#fff" stroke-width="1.4"/>
<!-- labels -->
<g font-family="Liberation Sans, sans-serif">
<text x="328.8" y="88.2" font-size="7.5" font-weight="normal" fill="#fff" stroke="#fff" stroke-width="2" stroke-linejoin="round">St George</text>
<text x="548.0" y="57.8" font-size="10.1" letter-spacing="-0.42" font-weight="bold" fill="#fff" stroke="#fff" stroke-width="2" stroke-linejoin="round">Brisbane</text>
<text x="564.1" y="84.7" font-size="7.6" font-weight="normal" fill="#fff" stroke="#fff" stroke-width="2" stroke-linejoin="round">Gold Coast</text>
<text x="551.7" y="214.6" font-size="8" font-weight="normal" fill="#fff" stroke="#fff" stroke-width="2" stroke-linejoin="round">Coffs Harbour</text>
<text x="541.3" y="274.7" font-size="7.8" font-weight="normal" fill="#fff" stroke="#fff" stroke-width="2" stroke-linejoin="round">Port</text>
<text x="541.3" y="283.8" font-size="7.8" font-weight="normal" fill="#fff" stroke="#fff" stroke-width="2" stroke-linejoin="round">Macquarie</text>
<text x="331.7" y="326" font-size="7.7" font-weight="normal" fill="#fff" stroke="#fff" stroke-width="2" stroke-linejoin="round">Dubbo</text>
<text x="316.5" y="162" font-size="7.6" font-weight="normal" fill="#fff" stroke="#fff" stroke-width="2" stroke-linejoin="round">ning</text>
<text x="443" y="453.2" font-size="7.6" font-weight="normal" fill="#fff" stroke="#fff" stroke-width="2" stroke-linejoin="round">Wollongong</text>
<text x="551" y="12.2" font-size="8" font-weight="normal" fill="#fff" stroke="#fff" stroke-width="2" stroke-linejoin="round">Sunshine</text>
<text x="328.8" y="88.2" font-size="7.5" font-weight="normal" fill="#303030" stroke="#303030" stroke-width="0.12">St George</text>
<text x="548.0" y="57.8" font-size="10.1" letter-spacing="-0.42" font-weight="bold" fill="#303030" stroke="#303030" stroke-width="0.15">Brisbane</text>
<text x="564.1" y="84.7" font-size="7.6" font-weight="normal" fill="#303030" stroke="#303030" stroke-width="0.12">Gold Coast</text>
<text x="551.7" y="214.6" font-size="8" font-weight="normal" fill="#303030" stroke="#303030" stroke-width="0.12">Coffs Harbour</text>
<text x="541.3" y="274.7" font-size="7.8" font-weight="normal" fill="#303030" stroke="#303030" stroke-width="0.12">Port</text>
<text x="541.3" y="283.8" font-size="7.8" font-weight="normal" fill="#303030" stroke="#303030" stroke-width="0.12">Macquarie</text>
<text x="331.7" y="326" font-size="7.7" font-weight="normal" fill="#303030" stroke="#303030" stroke-width="0.12">Dubbo</text>
<text x="316.5" y="162" font-size="7.6" font-weight="normal" fill="#303030" stroke="#303030" stroke-width="0.12">ning</text>
<text x="443" y="453.2" font-size="7.6" font-weight="normal" fill="#303030" stroke="#303030" stroke-width="0.12">Wollongong</text>
<text x="551" y="12.2" font-size="8" font-weight="normal" fill="#303030" stroke="#303030" stroke-width="0.12">Sunshine</text>
</g>
<g fill="#fff" stroke="#444" stroke-width="0.8">
<circle cx="325" cy="85.5" r="1.5"/>
<circle cx="542.8" cy="54.3" r="2.1" stroke="#222" stroke-width="1"/>
<circle cx="558.8" cy="82.3" r="1.5"/>
<circle cx="546.7" cy="211.5" r="1.6"/>
<circle cx="535.7" cy="276.5" r="1.4"/>
<circle cx="326.3" cy="323.5" r="1.5"/>
<circle cx="437.7" cy="448.6" r="1.4"/>
</g>
</svg>
</div>
<svg class="abs" style="left:18px;top:21px" width="14" height="18" viewBox="0 0 14 18"><path d="M10 2.6 L3 9 L10 15.4" fill="none" stroke="#1a1a1a" stroke-width="1.5" stroke-linecap="round" stroke-linejoin="round"/></svg>
<div class="abs" id="title">12048U</div>
<div class="abs" id="tab1">Chart</div>
<div class="abs" id="tab2">Data details</div>
<div class="abs" id="ind"></div>
<div class="abs" id="pill"></div>
<div class="abs dt" style="left:41px">2025<i class="s">/</i>08<i class="s">/</i>06</div>
<div class="abs" id="dash"></div>
<div class="abs dt" style="left:148.5px">2025<i class="s">/</i>08<i class="s">/</i>25</div>
<div class="abs" id="all">All</div>
<svg class="abs" style="left:281px;top:99px" width="10" height="10" viewBox="0 0 10 10"><path d="M1.2 3 L5 6.8 L8.8 3" fill="none" stroke="#555" stroke-width="1" stroke-linecap="round" stroke-linejoin="round"/></svg>
<div class="abs hd" style="left:44px">Date</div>
<div class="abs hd" style="left:118px">Time</div>
<div class="abs hd" style="left:200px"><span style="font-size:8px;position:relative;top:-3.5px;">°</span>F</div>
<div class="abs hd" style="left:267px">%RH</div>
<div class="row" style="top:158px"><span class="d">2025<i class="s">/</i>08<i class="s">/</i>25</span><span class="t"><i class="o">1</i>0:03:25</span><span class="f">8<i class="o">1</i>.7</span><span class="h">60.3</span></div>
<div class="row" style="top:183px"><span class="d">2025<i class="s">/</i>08<i class="s">/</i>25</span><span class="t">08:27:25</span><span class="f">8<i class="o">1</i>.<i class="o">1</i></span><span class="h">60.<i class="o">1</i></span></div>
<div class="row" style="top:208px"><span class="d">2025<i class="s">/</i>08<i class="s">/</i>25</span><span class="t">06:5<i class="o">1</i>:25</span><span class="f">80.8</span><span class="h">60.<i class="o">1</i></span></div>
<div class="row" style="top:233px"><span class="d">2025<i class="s">/</i>08<i class="s">/</i>25</span><span class="t">05:<i class="o">1</i>5:25</span><span class="f">80.6</span><span class="h">60.0</span></div>
<div class="row" style="top:258px"><span class="d">2025<i class="s">/</i>08<i class="s">/</i>25</span><span class="t">03:39:25</span><span class="f">80.6</span><span class="h">59.9</span></div>
<div class="row" style="top:283px"><span class="d">2025<i class="s">/</i>08<i class="s">/</i>25</span><span class="t">02:03:25</span><span class="f">80.8</span><span class="h">59.9</span></div>
<div class="row" style="top:308px"><span class="d">2025<i class="s">/</i>08<i class="s">/</i>25</span><span class="t">00:27:25</span><span class="f">8<i class="o">1</i>.0</span><span class="h">59.9</span></div>
<div class="row" style="top:333px"><span class="d">2025<i class="s">/</i>08<i class="s">/</i>24</span><span class="t">22:5<i class="o">1</i>:25</span><span class="f">8<i class="o">1</i>.<i class="o">1</i></span><span class="h">60.0</span></div>
<div class="row" style="top:358px"><span class="d">2025<i class="s">/</i>08<i class="s">/</i>24</span><span class="t">2<i class="o">1</i>:<i class="o">1</i>5:25</span><span class="f">8<i class="o">1</i>.7</span><span class="h">60.0</span></div>
<div class="row" style="top:383px"><span class="d">2025<i class="s">/</i>08<i class="s">/</i>24</span><span class="t"><i class="o">1</i>9:39:25</span><span class="f">82.4</span><span class="h">60.0</span></div>
<div class="row" style="top:408px"><span class="d">2025<i class="s">/</i>08<i class="s">/</i>24</span><span class="t"><i class="o">1</i>8:03:25</span><span class="f">83.2</span><span class="h">60.<i class="o">1</i></span></div>
<div class="row" style="top:433px"><span class="d">2025<i class="s">/</i>08<i class="s">/</i>24</span><span class="t"><i class="o">1</i>6:27:25</span><span class="f">84.0</span><span class="h">60.<i class="o">1</i></span></div>

<div class="btn" style="left:95px">
<div class="ic"></div>
<svg class="abs" style="left:21px;top:4.5px" width="23.4" height="23.4" viewBox="0 0 23.4 23.4"><g fill="none" stroke="#2f9463" stroke-width="1.3" stroke-linecap="round" stroke-linejoin="round"><path d="M10.9 17.9 H7.1 Q5.7 17.9 5.7 16.5 V6.3 Q5.7 4.9 7.1 4.9 H15.5 Q16.9 4.9 16.9 6.3 V12.2"/><path d="M8.3 9.6 H14"/><path d="M8.3 12.4 H12.4"/><path d="M12.5 16.5 L14.1 17.9 L17.4 15.4"/></g></svg>
<div class="tx" style="left:52.5px">Filtering</div>
</div>
<div class="btn" style="left:385px">
<div class="ic"></div>
<svg class="abs" style="left:21px;top:4.5px" width="23.4" height="23.4" viewBox="0 0 23.4 23.4"><path d="M11.7 19.7 L7.38 15.28 A6.05 6.05 0 1 1 16.02 15.28 Z" fill="none" stroke="#2f9463" stroke-width="1.55" stroke-linejoin="round"/><circle cx="11.7" cy="10.8" r="2.3" fill="#2f9463"/></svg>
<div class="tx" style="left:52.5px;font-size:14.4px">Location</div>
</div>
</body></html>
